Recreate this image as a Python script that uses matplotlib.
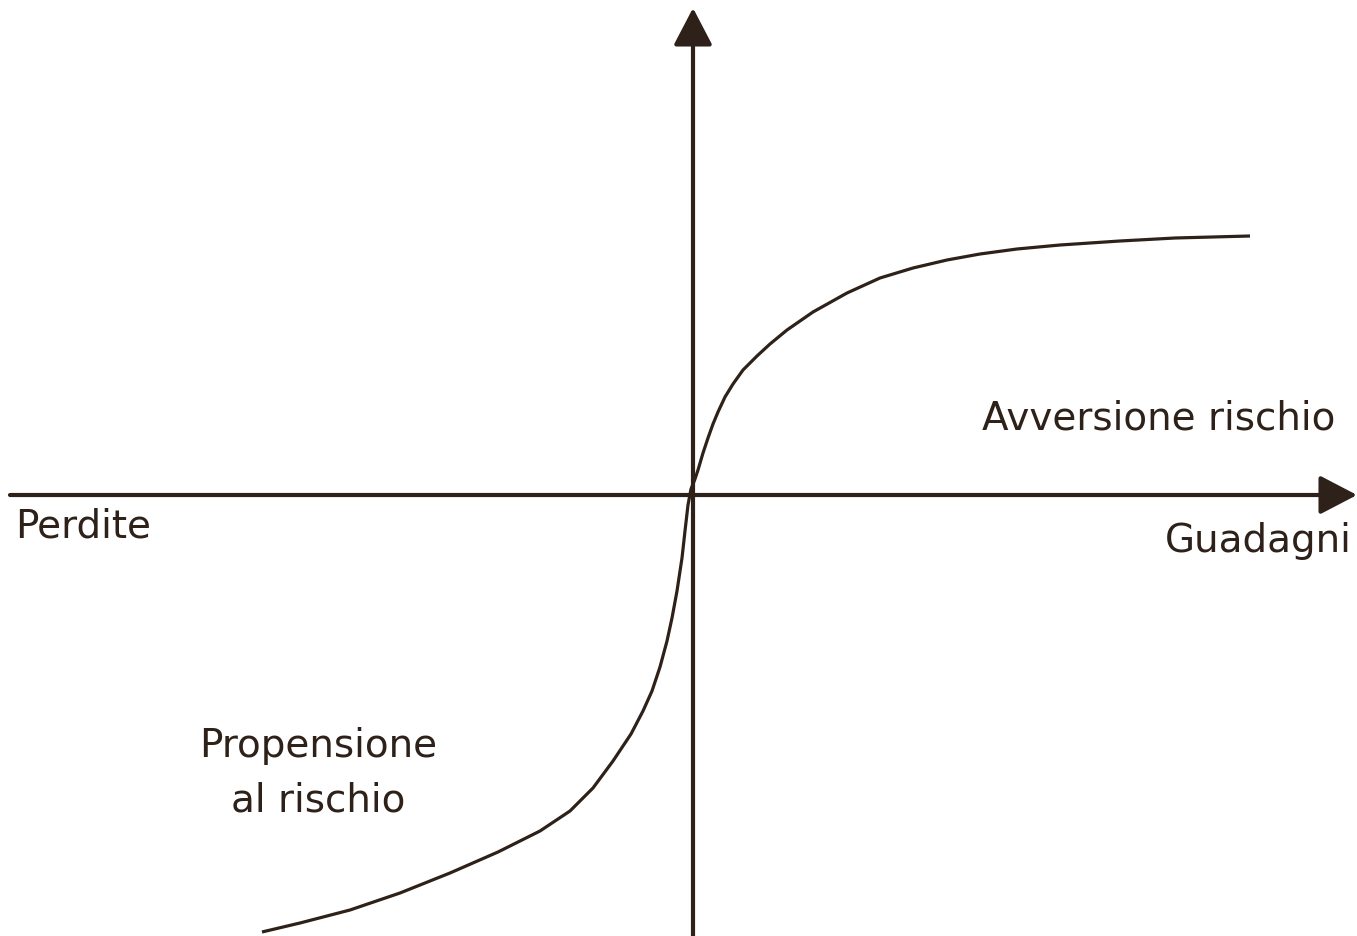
import matplotlib
matplotlib.use("Agg")
import matplotlib.pyplot as plt

# Value function (prospect theory); origin = (0, 0)
gains = [-431, -393, -343, -293, -243, -195, -153, -123, -100, -80, -62, -50, -41,
         -33, -26, -21, -16, -11, -8, -5, -2, 2, 5, 10, 15, 20, 25, 32, 40, 50, 64, 77,
         94, 120, 154, 187, 220, 254, 287, 324, 367, 427, 482, 557]
value = [-437, -428, -415, -398, -378, -357, -336, -316, -293, -266, -239, -216, -196,
         -172, -146, -123, -96, -63, -36, -10, 6, 16, 25, 42, 57, 71, 83, 98, 111, 125, 139, 151,
         165, 183, 202, 217, 227, 235, 241, 246, 250, 254, 257, 259]

x_range = (-693, 664)
y_range = (-441, 495)

axis_labels = ["Perdite", "Guadagni"]
region_labels = ["Avversione rischio", "Propensione\nal rischio"]

ink = "#2d2119"

fig = plt.figure(figsize=(13.57, 9.36), dpi=100)
ax = fig.add_axes([0, 0, 1, 1])
ax.set_xlim(*x_range)
ax.set_ylim(*y_range)
ax.axis("off")

arrow_kw = dict(arrowstyle="-|>,head_length=23,head_width=12", color=ink, lw=3.0,
                shrinkA=0, shrinkB=0, mutation_scale=1)
ax.annotate("", xy=(x_range[1], 0), xytext=(-683, 0), arrowprops=arrow_kw)
ax.annotate("", xy=(0, 487), xytext=(0, y_range[0]), arrowprops=arrow_kw)

ax.plot(gains, value, color=ink, lw=2.3, solid_capstyle="butt", solid_joinstyle="round")

font = dict(family=["DejaVu Sans"], fontsize=28, color=ink)
ax.text(-678, -43, axis_labels[0], ha="left", va="baseline", **font)
ax.text(659, -57, axis_labels[1], ha="right", va="baseline", **font)
ax.text(642, 65, region_labels[0], ha="right", va="baseline", **font)
line1, line2 = region_labels[1].split("\n")
ax.text(-375, -262, line1, ha="center", va="baseline", **font)
ax.text(-375, -317, line2, ha="center", va="baseline", **font)

fig.savefig("out.png", dpi=100, facecolor="white")
